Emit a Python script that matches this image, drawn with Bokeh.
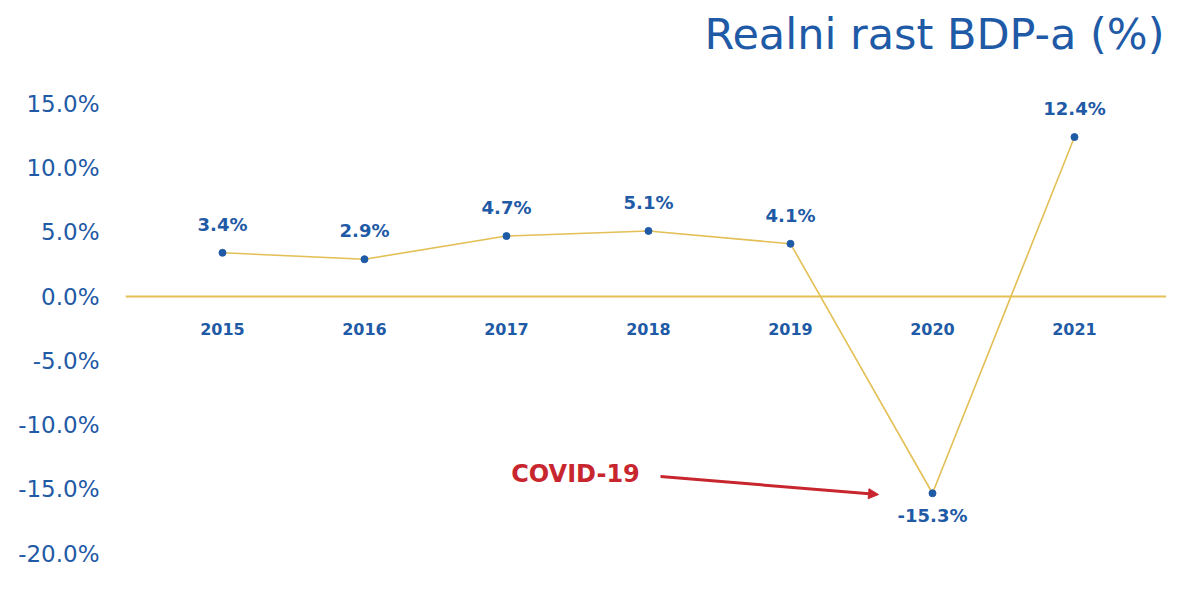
from bokeh.plotting import figure
from bokeh.models import Range1d, FixedTicker, PrintfTickFormatter, Label, Arrow, NormalHead, ColumnDataSource
from bokeh.embed import file_html
from bokeh.resources import INLINE
from bokeh.core.properties import value

years = ["2015", "2016", "2017", "2018", "2019", "2020", "2021"]
growth = [3.4, 2.9, 4.7, 5.1, 4.1, -15.3, 12.4]
labels = ["3.4%", "2.9%", "4.7%", "5.1%", "4.1%", "-15.3%", "12.4%"]
y_ticks = [-20, -15, -10, -5, 0, 5, 10, 15]
title_text = "Realni rast BDP-a (%)"
note_text = "COVID-19"

BLUE = "#1f5aa6"
GOLD = "#e3bf55"
RED = "#c8262e"
FONT = "DejaVu Sans"

xs = list(range(len(years)))
src = ColumnDataSource(dict(x=xs, y=growth, label=labels))

p = figure(width=1166, height=591, output_backend="svg", toolbar_location=None,
           x_range=Range1d(-0.683, 6.648), y_range=Range1d(-22.94, 23.02),
           min_border_left=125, min_border_right=0, min_border_top=0, min_border_bottom=0)
p.outline_line_color = None
p.xgrid.visible = False
p.ygrid.visible = False

# y axis
p.yaxis.ticker = FixedTicker(ticks=y_ticks)
p.yaxis.formatter = PrintfTickFormatter(format="%.1f%%")
p.yaxis.axis_line_color = None
p.yaxis.major_tick_line_color = None
p.yaxis.minor_tick_line_color = None
p.yaxis.major_label_standoff = 20
p.yaxis.major_label_text_font = FONT
p.yaxis.major_label_text_font_size = "23px"
p.yaxis.major_label_text_color = BLUE

# x axis at zero
p.xaxis.fixed_location = 0
p.xaxis.ticker = FixedTicker(ticks=xs)
p.xaxis.major_label_overrides = {i: y for i, y in enumerate(years)}
p.xaxis.axis_line_color = GOLD
p.xaxis.axis_line_width = 2
p.xaxis.major_tick_line_color = None
p.xaxis.minor_tick_line_color = None
p.xaxis.major_label_standoff = 20
p.xaxis.major_label_text_font = FONT
p.xaxis.major_label_text_font_size = "16px"
p.xaxis.major_label_text_font_style = "bold"
p.xaxis.major_label_text_color = BLUE

p.line("x", "y", source=src, line_color=GOLD, line_width=1.6)
p.scatter("x", "y", source=src, size=7, fill_color=BLUE, line_color=BLUE)

up = ColumnDataSource(dict(x=[x for x, v in zip(xs, growth) if v >= 0],
                           y=[v for v in growth if v >= 0],
                           label=[l for l, v in zip(labels, growth) if v >= 0]))
dn = ColumnDataSource(dict(x=[x for x, v in zip(xs, growth) if v < 0],
                           y=[v for v in growth if v < 0],
                           label=[l for l, v in zip(labels, growth) if v < 0]))
p.text("x", "y", text="label", source=up, text_align="center", text_baseline="bottom",
       y_offset=-18, text_font=value(FONT), text_font_size="18px", text_font_style="bold",
       text_color=BLUE)
p.text("x", "y", text="label", source=dn, text_align="center", text_baseline="top",
       y_offset=12, text_font=value(FONT), text_font_size="18px", text_font_style="bold",
       text_color=BLUE)

# COVID annotation
p.add_layout(Label(x=2.486, y=-13.84, text=note_text, text_align="center", text_baseline="middle",
                   text_font=FONT, text_font_size="24px", text_font_style="bold", text_color=RED))
p.add_layout(Arrow(x_start=3.085, y_start=-14.0, x_end=4.62, y_end=-15.4,
                   line_color=RED, line_width=3,
                   end=NormalHead(size=10, fill_color=RED, line_color=RED)))

# title
p.add_layout(Label(x=1039, y=558, x_units="screen", y_units="screen", text=title_text,
                   text_align="right", text_baseline="alphabetic",
                   text_font=FONT, text_font_size="43px", text_color=BLUE))

open("out.html", "w").write(file_html(p, INLINE))
